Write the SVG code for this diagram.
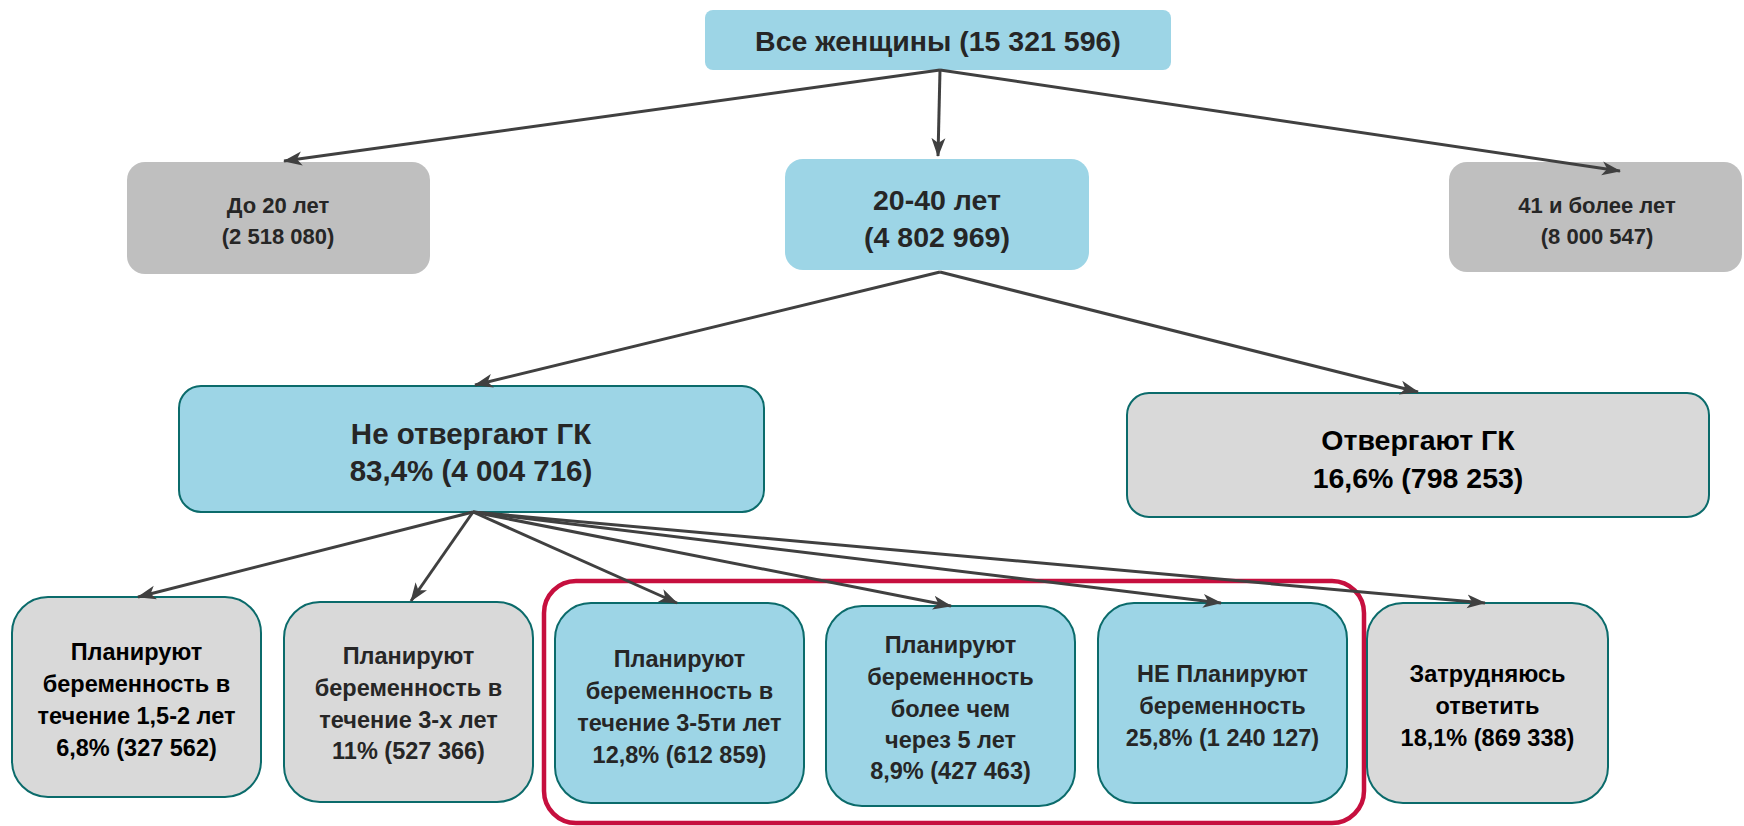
<svg xmlns="http://www.w3.org/2000/svg" width="1744" height="826" viewBox="0 0 1744 826">
<defs>
<marker id="arr" markerUnits="userSpaceOnUse" markerWidth="20" markerHeight="16" viewBox="0 0 20 16" refX="18" refY="8" orient="auto">
<path d="M0,1 L19,8 L0,15 L5,8 z" fill="#404040"/>
</marker>
<style>
.blue{fill:#9dd5e6}
.g1{fill:#bfbfbf}
.g2{fill:#d9d9d9}
.bd{stroke:#0b6b6b;stroke-width:2}
text{font-family:"Liberation Sans",Arial,sans-serif;font-weight:bold;text-anchor:middle;fill:#262626}
.t28{font-size:28.5px}
.t29{font-size:29.5px}
.t21{font-size:22px}
.t22{font-size:23.5px}
.blk{fill:#000}
.con line{stroke:#404040;stroke-width:3;marker-end:url(#arr)}
</style>
</defs>
<rect width="1744" height="826" fill="#fff"/>

<g id="n-all">
<rect class="blue" x="705" y="10" width="466" height="60" rx="8"/>
<text class="t28" x="938" y="51">Все женщины (15 321 596)</text>
</g>
<g id="n-u20">
<rect class="g1" x="127" y="162" width="303" height="112" rx="18"/>
<text class="t21" x="278" y="213">До 20 лет</text>
<text class="t21" x="278" y="244">(2 518 080)</text>
</g>
<g id="n-2040">
<rect class="blue" x="785" y="159" width="304" height="111" rx="18"/>
<text class="t28" x="937" y="210">20-40 лет</text>
<text class="t28" x="937" y="247">(4 802 969)</text>
</g>
<g id="n-41">
<rect class="g1" x="1449" y="162" width="293" height="110" rx="18"/>
<text class="t21" x="1597" y="213">41 и более лет</text>
<text class="t21" x="1597" y="244">(8 000 547)</text>
</g>
<g id="n-notrej">
<rect class="blue bd" x="179" y="386" width="585" height="126" rx="22"/>
<text class="t29" x="471" y="444">Не отвергают ГК</text>
<text class="t29" x="471" y="481">83,4% (4 004 716)</text>
</g>
<g id="n-rej">
<rect class="g2 bd" x="1127" y="393" width="582" height="124" rx="22"/>
<text class="t28 blk" x="1418" y="450">Отвергают ГК</text>
<text class="t28 blk" x="1418" y="488">16,6% (798 253)</text>
</g>

<g id="highlight">
<rect x="544" y="581" width="820" height="242" rx="32" fill="none" stroke="#c60f3e" stroke-width="4.5"/>
</g>

<g id="n-b1">
<rect class="g2 bd" x="12" y="597" width="249" height="200" rx="36"/>
<text class="t22 blk" x="136.5" y="660">Планируют</text>
<text class="t22 blk" x="136.5" y="692">беременность в</text>
<text class="t22 blk" x="136.5" y="724">течение 1,5-2 лет</text>
<text class="t22 blk" x="136.5" y="756">6,8% (327 562)</text>
</g>
<g id="n-b2">
<rect class="g2 bd" x="284" y="602" width="249" height="200" rx="36"/>
<text class="t22" x="408.5" y="664">Планируют</text>
<text class="t22" x="408.5" y="696">беременность в</text>
<text class="t22" x="408.5" y="728">течение 3-х лет</text>
<text class="t22" x="408.5" y="759">11% (527 366)</text>
</g>
<g id="n-b3">
<rect class="blue bd" x="555" y="603" width="249" height="200" rx="36"/>
<text class="t22" x="679.5" y="667">Планируют</text>
<text class="t22" x="679.5" y="699">беременность в</text>
<text class="t22" x="679.5" y="731">течение 3-5ти лет</text>
<text class="t22" x="679.5" y="763">12,8% (612 859)</text>
</g>
<g id="n-b4">
<rect class="blue bd" x="826" y="606" width="249" height="200" rx="36"/>
<text class="t22" x="950.5" y="653">Планируют</text>
<text class="t22" x="950.5" y="685">беременность</text>
<text class="t22" x="950.5" y="717">более чем</text>
<text class="t22" x="950.5" y="748">через 5 лет</text>
<text class="t22" x="950.5" y="779">8,9% (427 463)</text>
</g>
<g id="n-b5">
<rect class="blue bd" x="1098" y="603" width="249" height="200" rx="36"/>
<text class="t22" x="1222.5" y="682">НЕ Планируют</text>
<text class="t22" x="1222.5" y="714">беременность</text>
<text class="t22" x="1222.5" y="746">25,8% (1 240 127)</text>
</g>
<g id="n-b6">
<rect class="g2 bd" x="1367" y="603" width="241" height="200" rx="36"/>
<text class="t22 blk" x="1487.5" y="682">Затрудняюсь</text>
<text class="t22 blk" x="1487.5" y="714">ответить</text>
<text class="t22 blk" x="1487.5" y="746">18,1% (869 338)</text>
</g>

<g id="connectors" class="con">
<line x1="940" y1="70" x2="284" y2="161"/>
<line x1="940" y1="70" x2="938" y2="156"/>
<line x1="940" y1="70" x2="1620" y2="171"/>
<line x1="940" y1="272" x2="475" y2="385"/>
<line x1="940" y1="272" x2="1418" y2="392"/>
<line x1="473" y1="512" x2="138" y2="597"/>
<line x1="473" y1="512" x2="411" y2="601"/>
<line x1="473" y1="512" x2="677" y2="603"/>
<line x1="473" y1="512" x2="951" y2="606"/>
<line x1="473" y1="512" x2="1221" y2="603"/>
<line x1="473" y1="512" x2="1485" y2="603"/>
</g>
</svg>
